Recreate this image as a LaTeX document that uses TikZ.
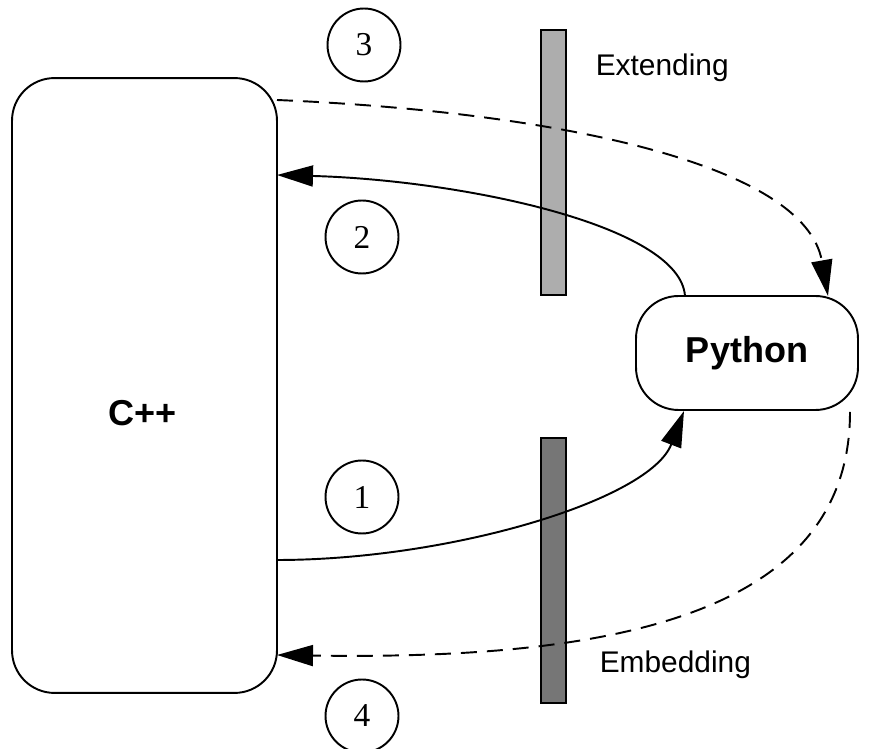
\documentclass[tikz,border=0pt]{standalone}
\usepackage{fontspec}
\setmainfont{Liberation Serif}
\setsansfont{Liberation Sans}
\usetikzlibrary{arrows.meta}
\definecolor{barlight}{HTML}{ADADAD}
\definecolor{bardark}{HTML}{767676}
\begin{document}
\begin{tikzpicture}[x=0.02cm,y=-0.02cm,
  line width=1.1pt,
  block/.style={draw,rounded corners=0.85cm,inner sep=0pt},
  bar/.style={draw,rectangle,minimum width=0.5cm,minimum height=5.3cm,inner sep=0pt},
  num/.style={draw,circle,minimum size=1.46cm,inner sep=0pt,font=\fontsize{19}{23}\selectfont},
  tag/.style={font=\sffamily\fontsize{17}{20}\selectfont,anchor=west},
  title/.style={font=\sffamily\bfseries\fontsize{20.5}{24}\selectfont},
  link/.style={-{Triangle[length=0.72cm,width=0.42cm]}},
  linkd/.style={link,dash pattern=on 0.32cm off 0.2cm}]
\useasboundingbox (0,0) rectangle (870,749);

% the two languages
\node[block,minimum width=5.3cm,minimum height=12.3cm] (cpp) at (144.5,385.5) {};
\node[title] (cpplabel) at (143,413) {C++};
\node[block,title,minimum width=4.44cm,minimum height=2.28cm] (py) at (747,353) {Python};

% interface bars
\node[bar,fill=barlight] (ext) at (553.5,162.5) {};
\node[bar,fill=bardark] (emb) at (553.5,570.5) {};
\node[tag] (extlabel) at (589,68) {Extending};
\node[tag] (emblabel) at (593,665) {Embedding};

% step numbers
\node[num] (n3) at (364,45) {3};
\node[num] (n2) at (362,237) {2};
\node[num] (n1) at (362,497) {1};
\node[num] (n4) at (362,716) {4};

% end points on the box borders
\coordinate (c3s) at (277,100);
\coordinate (c2e) at (277,175);
\coordinate (c1s) at (277,560);
\coordinate (c4e) at (277,655);
\coordinate (p3e) at (828,296);
\coordinate (p2s) at (685,296);
\coordinate (p1e) at (684,411);
\coordinate (p4s) at (850,412);

% connectors
\draw[linkd] (c3s) .. controls (560,112) and (805,165) .. (p3e);
\draw[link] (p2s) .. controls (680,225) and (460,180) .. (c2e);
\draw[link] (c1s) .. controls (450,560) and (650,500) .. (p1e);
\draw[linkd] (p4s) .. controls (850,620) and (600,660) .. (c4e);
\end{tikzpicture}
\end{document}
